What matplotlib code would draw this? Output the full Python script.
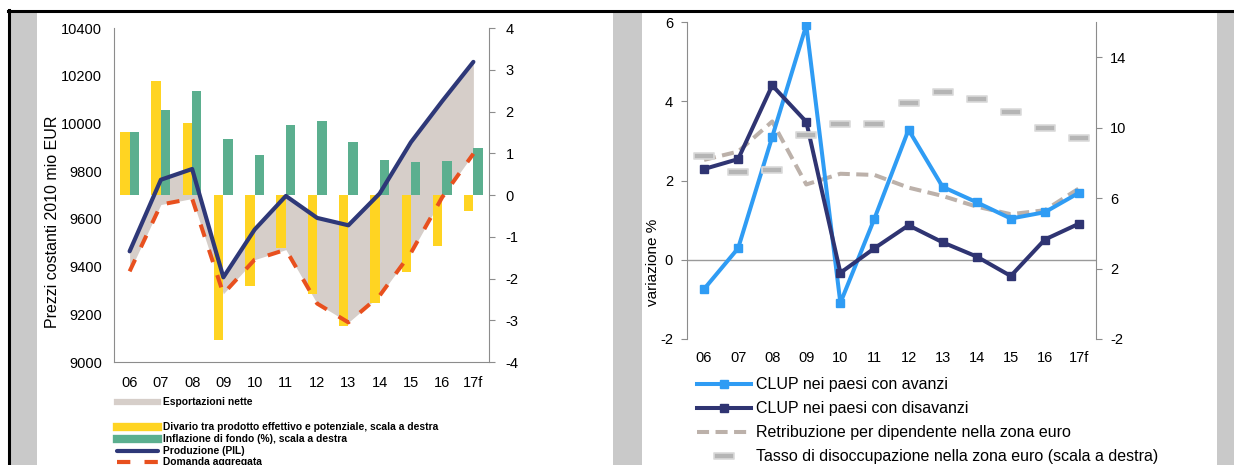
import numpy as np
import matplotlib
matplotlib.use("Agg")
import matplotlib.pyplot as plt
from matplotlib import font_manager
from matplotlib.lines import Line2D
from matplotlib.patches import Rectangle
from matplotlib.path import Path

W, H = 1234, 465

# --- left panel: output, demand, gap, core inflation ---
years = ["06", "07", "08", "09", "10", "11", "12", "13", "14", "15", "16", "17f"]
divario = [1.5, 2.72, 1.72, -3.47, -2.17, -1.26, -2.36, -3.13, -2.58, -1.84, -1.21, -0.38]
inflazione = [1.51, 2.03, 2.49, 1.35, 0.97, 1.68, 1.77, 1.26, 0.85, 0.79, 0.81, 1.13]
pil = [9464, 9764, 9809, 9355, 9555, 9696, 9604, 9573, 9706, 9921, 10093, 10258]
domanda = [9380, 9660, 9685, 9286, 9429, 9471, 9245, 9166, 9278, 9457, 9690, 9873]

# --- right panel: unit labour costs, wages, unemployment ---
clup_avanzi = [-0.74, 0.29, 3.10, 5.92, -1.09, 1.04, 3.28, 1.84, 1.45, 1.04, 1.20, 1.69]
clup_disavanzi = [2.29, 2.54, 4.40, 3.48, -0.33, 0.29, 0.87, 0.44, 0.08, -0.41, 0.51, 0.91]
retribuzione = [2.52, 2.73, 3.49, 1.90, 2.17, 2.14, 1.82, 1.61, 1.34, 1.15, 1.25, 1.80]
disoccupazione = [8.4, 7.5, 7.6, 9.6, 10.2, 10.2, 11.4, 12.0, 11.6, 10.9, 10.0, 9.4]

YELLOW, GREEN = "#FFD422", "#5BAF8F"
NAVY, RED, FILL = "#2E3878", "#E8501E", "#D6CEC9"
BLUE, NAVY2, TAN = "#2F9CF4", "#2F3472", "#BCB1AA"
GREY_AX = "#8C8C8C"


def have_font(name):
    try:
        font_manager.findfont(font_manager.FontProperties(family=name), fallback_to_default=False)
        return True
    except ValueError:
        return False


NARROW = "Liberation Sans Narrow" if have_font("Liberation Sans Narrow") else "Liberation Sans"
plt.rcParams["font.family"] = ["Liberation Sans", "DejaVu Sans"]
plt.rcParams["axes.unicode_minus"] = False
TICK = 10.5


def fx(px):
    return px / W


def fy(py):
    return 1 - py / H


def box(x0, y0, x1, y1):
    # pixel box (top-left origin) -> [left, bottom, width, height] in figure fraction
    return [fx(x0), fy(y1), fx(x1 - x0), (y1 - y0) / H]


fig = plt.figure(figsize=(W / 100, H / 100), dpi=100)

# page frame: grey margins and black rule
for x0, x1 in [(10, 37), (613, 642), (1217, 1234)]:
    fig.patches.append(Rectangle((fx(x0), 0), fx(x1 - x0), fy(12), transform=fig.transFigure,
                                 facecolor="#C9C9C9", edgecolor="none", zorder=0))
fig.add_artist(Line2D([fx(8), 1], [fy(11), fy(11)], color="black", lw=2.2))
fig.add_artist(Line2D([fx(9), fx(9)], [0, fy(10)], color="black", lw=2.2))

x = np.arange(len(years))

# ---------------- left chart ----------------
ax = fig.add_axes(box(114, 28, 489, 362))
ax.fill_between(x, domanda, pil, color=FILL, lw=0)
ax.set_ylim(9000, 10400)
ax.set_xlim(-0.5, 11.5)
ax.set_yticks(np.arange(9000, 10401, 200))
ax.set_xticks(x)
ax.set_xticklabels(years)
for s in ["top", "right"]:
    ax.spines[s].set_visible(False)
for s in ["left", "bottom"]:
    ax.spines[s].set_color(GREY_AX)
ax.tick_params(axis="both", length=0, labelsize=TICK)
ax.tick_params(axis="y", pad=8.6)
ax.tick_params(axis="x", pad=10)
for lab in ax.get_xticklabels() + ax.get_yticklabels():
    lab.set_fontfamily(NARROW)
ax.set_ylabel("Prezzi costanti 2010 mio EUR", fontsize=11.5)
ax.yaxis.set_label_coords(-0.145, 0.42)

axb = ax.twinx()
axb.bar(x - 0.15, divario, width=0.3, color=YELLOW, lw=0)
axb.bar(x + 0.15, inflazione, width=0.3, color=GREEN, lw=0)
axb.set_ylim(-4, 4)
axb.set_yticks(np.arange(-4, 5, 1))
for s in ["top", "left", "bottom"]:
    axb.spines[s].set_visible(False)
axb.spines["right"].set_color(GREY_AX)
axb.tick_params(axis="y", length=4, color=GREY_AX, pad=8, labelsize=TICK)
for lab in axb.get_yticklabels():
    lab.set_fontfamily(NARROW)

axl = ax.twinx()
axl.set_ylim(9000, 10400)
axl.axis("off")
axl.plot(x, pil, color=NAVY, lw=3, solid_capstyle="round", zorder=3)
axl.plot(x, domanda, color=RED, lw=2.9, dashes=(3.2, 3.4), zorder=3)

# left legend, drawn in page pixels
leg_items = [
    (402, dict(color=FILL, lw=4.5), "Esportazioni nette"),
    (427, dict(color=YELLOW, lw=6), "Divario tra prodotto effettivo e potenziale, scala a destra"),
    (439, dict(color=GREEN, lw=6), "Inflazione di fondo (%), scala a destra"),
    (451, dict(color=NAVY, lw=3, solid_capstyle="round"), "Produzione (PIL)"),
    (462, dict(color=RED, lw=3, dashes=(3.2, 3.4)), "Domanda aggregata"),
]
for py, style, label in leg_items:
    fig.add_artist(Line2D([fx(117), fx(158)], [fy(py), fy(py)], **style))
    fig.text(fx(163), fy(py), label, ha="left", va="center", fontsize=7.4,
             fontweight="bold", family=NARROW)

# ---------------- right chart ----------------
ar = fig.add_axes(box(687, 22, 1096, 339))
ar.axhline(0, color="#9A9A9A", lw=1)
ar.plot(x, retribuzione, color=TAN, lw=2.9, dashes=(3, 1.6))
ar.plot(x, clup_avanzi, color=BLUE, lw=2.9, marker="s", ms=5.5)
ar.plot(x, clup_disavanzi, color=NAVY2, lw=2.9, marker="s", ms=5.5)
ar.set_ylim(-2, 6)
ar.set_xlim(-0.5, 11.5)
ar.set_yticks([-2, 0, 2, 4, 6])
ar.set_xticks(x)
ar.set_xticklabels(years)
for s in ["top", "right", "bottom"]:
    ar.spines[s].set_visible(False)
ar.spines["left"].set_color(GREY_AX)
ar.tick_params(axis="y", length=4, color=GREY_AX, pad=6, labelsize=TICK)
ar.tick_params(axis="x", length=0, pad=9, labelsize=TICK)
for lab in ar.get_xticklabels() + ar.get_yticklabels():
    lab.set_fontfamily(NARROW)
ar.set_ylabel("variazione %", fontsize=11)
ar.yaxis.set_label_coords(-0.066, 0.243)

# unemployment shown as flat rounded dashes
dash = Path([(-1.5, -0.42), (1.5, -0.42), (1.5, 0.42), (-1.5, 0.42), (-1.5, -0.42)],
            [Path.MOVETO, Path.LINETO, Path.LINETO, Path.LINETO, Path.CLOSEPOLY])
mk = dict(marker=dash, ms=14.5, mfc="#B5B5B5", mec="#DADADA", mew=1.2, ls="none")
ar2 = ar.twinx()
ar2.plot(x, disoccupazione, **mk)
ar2.set_ylim(-2, 16)
ar2.set_yticks([-2, 2, 6, 10, 14])
for s in ["top", "left", "bottom"]:
    ar2.spines[s].set_visible(False)
ar2.spines["right"].set_color(GREY_AX)
ar2.tick_params(axis="y", length=4, color=GREY_AX, pad=6, labelsize=TICK)
for lab in ar2.get_yticklabels():
    lab.set_fontfamily(NARROW)

# right legend
r_items = [
    (384, dict(color=BLUE, lw=2.9), dict(marker="s", ms=5.5, color=BLUE), "CLUP nei paesi con avanzi"),
    (408, dict(color=NAVY2, lw=2.9), dict(marker="s", ms=5.5, color=NAVY2), "CLUP nei paesi con disavanzi"),
    (432, dict(color=TAN, lw=2.9, dashes=(3, 1.6)), None, "Retribuzione per dipendente nella zona euro"),
    (456, None, mk, "Tasso di disoccupazione nella zona euro (scala a destra)"),
]
for py, line, marker, label in r_items:
    if line:
        fig.add_artist(Line2D([fx(697), fx(751)], [fy(py), fy(py)], **line))
    if marker:
        fig.add_artist(Line2D([fx(724)], [fy(py)], **marker))
    fig.text(fx(756), fy(py), label, ha="left", va="center", fontsize=11.5)

fig.savefig("out.png", dpi=100)
